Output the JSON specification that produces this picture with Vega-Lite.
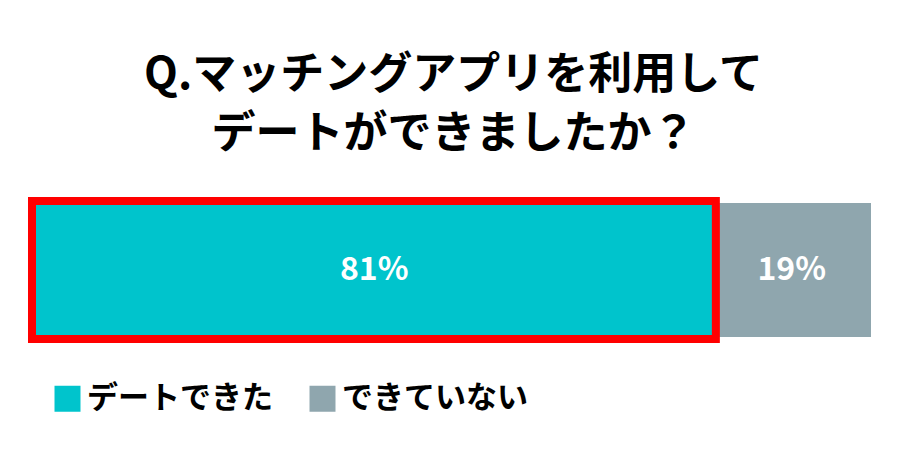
{
  "$schema": "https://vega.github.io/schema/vega-lite/v6.json",
  "width": 835,
  "height": 134,
  "padding": {"left": 28, "right": 29, "top": 54, "bottom": 20},
  "background": "#ffffff",
  "config": {
    "view": {"stroke": null},
    "font": "Noto Sans CJK JP"
  },
  "title": {
    "text": ["Q.マッチングアプリを利用して", "デートができましたか？"],
    "font": "Noto Sans CJK JP",
    "fontSize": 44,
    "fontWeight": "bold",
    "lineHeight": 59,
    "color": "#000000",
    "anchor": "middle",
    "offset": 40
  },
  "data": {
    "values": [
      {"answer": "デートできた", "share": 0.81},
      {"answer": "できていない", "share": 0.19}
    ]
  },
  "transform": [
    {
      "stack": "share",
      "groupby": [],
      "sort": [{"field": "answer", "order": "descending"}],
      "as": ["v0", "v1"]
    }
  ],
  "layer": [
    {
      "mark": {"type": "bar", "size": 134},
      "encoding": {
        "x": {
          "field": "v0",
          "type": "quantitative",
          "scale": {"domain": [0, 1], "nice": false},
          "axis": null
        },
        "x2": {"field": "v1"},
        "color": {
          "field": "answer",
          "type": "nominal",
          "sort": ["デートできた", "できていない"],
          "scale": {
            "domain": ["デートできた", "できていない"],
            "range": ["#00C4CC", "#8FA6AE"]
          },
          "legend": {
            "orient": "none",
            "legendX": 16,
            "legendY": 180,
            "direction": "horizontal",
            "title": null,
            "padding": 0,
            "symbolType": "square",
            "symbolSize": 676,
            "symbolStrokeWidth": 0,
            "symbolOpacity": 1,
            "labelFont": "Noto Sans CJK JP",
            "labelFontSize": 31,
            "labelFontWeight": "bold",
            "labelColor": "#000000",
            "labelOffset": 4,
            "columnPadding": 34,
            "labelLimit": 400
          }
        }
      }
    },
    {
      "transform": [{"filter": "datum.answer === 'デートできた'"}],
      "mark": {
        "type": "bar",
        "size": 138,
        "fill": "transparent",
        "stroke": "#FF0000",
        "strokeWidth": 8,
        "xOffset": -4,
        "x2Offset": 3.5
      },
      "encoding": {
        "x": {"field": "v0", "type": "quantitative"},
        "x2": {"field": "v1"}
      }
    },
    {
      "transform": [{"calculate": "(datum.v0 + datum.v1) / 2", "as": "mid"}],
      "mark": {
        "type": "text",
        "font": "Noto Sans CJK JP",
        "fontSize": 32,
        "fontWeight": "bold",
        "color": "#ffffff",
        "align": "center",
        "baseline": "middle"
      },
      "encoding": {
        "x": {"field": "mid", "type": "quantitative"},
        "text": {"field": "share", "type": "quantitative", "format": ".0%"}
      }
    }
  ]
}
